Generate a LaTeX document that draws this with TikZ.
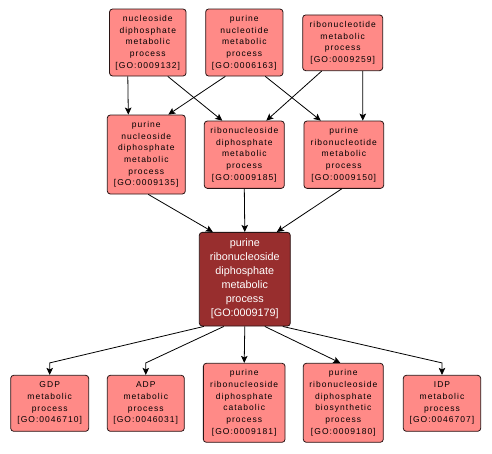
\documentclass[tikz,border=0pt]{standalone}
\usepackage{fontspec}
\setmainfont{Liberation Sans}
\newfontfamily\termfont[LetterSpace=12]{Liberation Sans}
\usetikzlibrary{arrows.meta}
\definecolor{termfill}{RGB}{255,138,135}
\definecolor{focusfill}{RGB}{152,46,46}
\definecolor{termline}{RGB}{40,20,20}

\begin{document}
\begin{tikzpicture}[x=1pt,y=-1pt,
        >={Stealth[length=7pt,width=6.5pt,inset=1.5pt]},
        term/.style={draw=termline,fill=termfill,rounded corners=3pt,line width=0.8pt,
            align=center,inner sep=0pt,minimum width=78pt,
            font=\termfont\fontsize{8.5}{11.7}\selectfont},
        focus/.style={term,fill=focusfill,text=white,
            font=\fontsize{10.8}{14}\selectfont},
        link/.style={->,line width=0.8pt,black}]
        \useasboundingbox (0,0) rectangle (492,453);
        % top row
        \node[term,minimum width=76.5pt,minimum height=67pt] (n132) at (147.8,42.5) {nucleoside\\diphosphate\\metabolic\\process\\{[GO:0009132]}};
        \node[term,minimum width=77.3pt,minimum height=67pt] (n163) at (244.3,42.5) {purine\\nucleotide\\metabolic\\process\\{[GO:0006163]}};
        \node[term,minimum width=80pt,minimum height=55.7pt] (n259) at (342.7,42.8) {ribonucleotide\\metabolic\\process\\{[GO:0009259]}};
        % second row
        \node[term,minimum width=78pt,minimum height=79pt] (n135) at (146.3,154.5) {purine\\nucleoside\\diphosphate\\metabolic\\process\\{[GO:0009135]}};
        \node[term,minimum width=80pt,minimum height=67.3pt] (n185) at (244.3,154.7) {ribonucleoside\\diphosphate\\metabolic\\process\\{[GO:0009185]}};
        \node[term,minimum width=79.7pt,minimum height=67.3pt] (n150) at (343.8,154.7) {purine\\ribonucleotide\\metabolic\\process\\{[GO:0009150]}};
        % focus term
        \node[focus,minimum width=91pt,minimum height=93.7pt] (n179) at (244.8,279.2) {purine\\ribonucleoside\\diphosphate\\metabolic\\process\\{[GO:0009179]}};
        % bottom row
        \node[term,minimum width=78pt,minimum height=56pt] (n710) at (49.7,403.3) {GDP\\metabolic\\process\\{[GO:0046710]}};
        \node[term,minimum width=77pt,minimum height=56pt] (n031) at (145.8,403.3) {ADP\\metabolic\\process\\{[GO:0046031]}};
        \node[term,minimum width=81.7pt,minimum height=79pt] (n181) at (244.2,402.8) {purine\\ribonucleoside\\diphosphate\\catabolic\\process\\{[GO:0009181]}};
        \node[term,minimum width=80pt,minimum height=79pt] (n180) at (343.3,402.8) {purine\\ribonucleoside\\diphosphate\\biosynthetic\\process\\{[GO:0009180]}};
        \node[term,minimum width=77.4pt,minimum height=56pt] (n707) at (442,403.3) {IDP\\metabolic\\process\\{[GO:0046707]}};
        % top to second row
        \draw[link] ([xshift=-20pt]n132.south) -- ([xshift=-18pt]n135.north);
        \draw[link] ([xshift=20pt]n132.south) -- ([xshift=-22pt]n185.north);
        \draw[link] ([xshift=-19pt]n163.south) -- ([xshift=22pt]n135.north);
        \draw[link] ([xshift=21pt]n163.south) -- ([xshift=-23pt]n150.north);
        \draw[link] ([xshift=-21pt]n259.south) -- ([xshift=22pt]n185.north);
        \draw[link] ([xshift=20pt]n259.south) -- ([xshift=19pt]n150.north);
        % second row to focus
        \draw[link] ([xshift=2pt]n135.south) -- ([xshift=-32pt]n179.north);
        \draw[link] (n185.south) -- (n179.north);
        \draw[link] ([xshift=-2pt]n150.south) -- ([xshift=32pt]n179.north);
        % focus to bottom row
        \draw[link] ([xshift=-41pt]n179.south) -- ([yshift=12pt]n710.north) -- (n710.north);
        \draw[link] ([xshift=-21pt]n179.south) -- ([yshift=12pt]n031.north) -- (n031.north);
        \draw[link] (n179.south) -- (n181.north);
        \draw[link] ([xshift=20pt]n179.south) -- ([xshift=-3pt]n180.north);
        \draw[link] ([xshift=38pt]n179.south) -- ([yshift=12pt]n707.north) -- (n707.north);
\end{tikzpicture}
\end{document}
